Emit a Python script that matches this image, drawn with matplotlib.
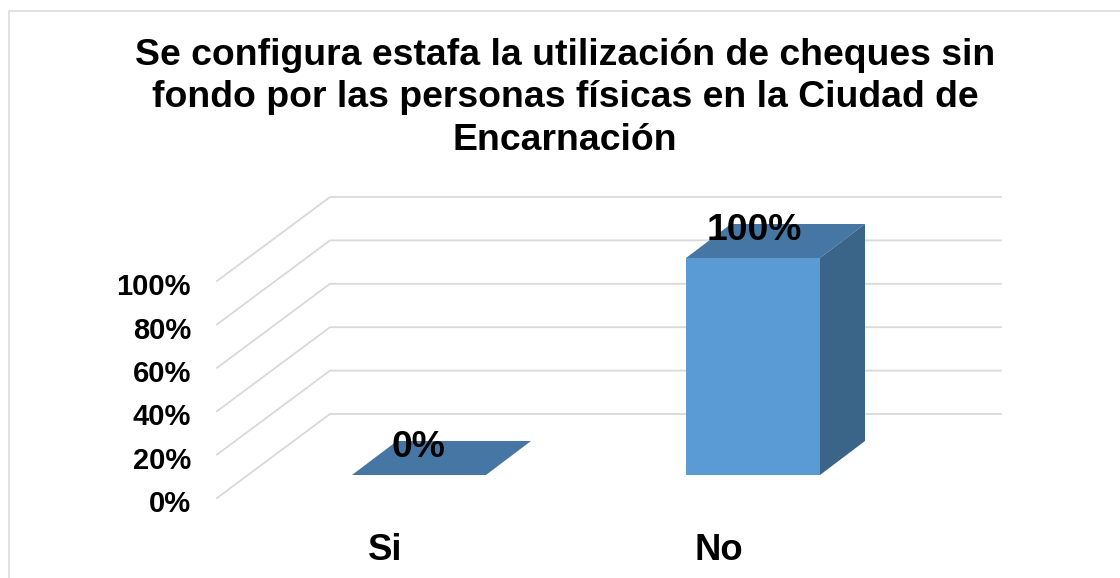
import matplotlib
matplotlib.use("Agg")
import matplotlib.pyplot as plt
from matplotlib.lines import Line2D
from matplotlib.patches import Polygon

plt.rcParams['font.family'] = ['Liberation Sans', 'DejaVu Sans']

title = "Se configura estafa la utilización de cheques sin\nfondo por las personas físicas en la Ciudad de\nEncarnación"
categories = ["Si", "No"]
values = [0, 100]
ticks = [0, 20, 40, 60, 80, 100]

W, H = 1120, 578
# pixels per category step / per percent on the front plane
PX_X = 334.0
PX_Y = 2.17
X0_PX = 419
Y0_PX = 475

bar_w = 134 / PX_X
bar_dx, bar_dy = 45 / PX_X, 34 / PX_Y
wall_dx, wall_dy = 113 / PX_X, 84 / PX_Y
# back wall position relative to the bar front plane
back_x = (330 - X0_PX) / PX_X
back_y = (Y0_PX - 414) / PX_Y
right_x = (1001 - X0_PX) / PX_X

fig = plt.figure(figsize=(W / 100, H / 100), dpi=100, facecolor="white")
ax = fig.add_axes([0, 0, 1, 1])
ax.set_xlim(-X0_PX / PX_X, (W - X0_PX) / PX_X)
ax.set_ylim((Y0_PX - H) / PX_Y, Y0_PX / PX_Y)
ax.axis("off")

# gridlines on the wall and the floor
for t in ticks:
    y = back_y + t
    ax.plot([back_x - wall_dx, back_x, right_x], [y - wall_dy, y, y],
            color="#d9d9d9", lw=1.3, solid_joinstyle="miter", zorder=1)
    ax.text((191 - X0_PX) / PX_X, y - wall_dy - 2.9, "%d%%" % t, ha="right", va="center",
            fontsize=21, fontweight="bold", color="black", zorder=5)

# bars: front, top and side faces
for i, v in enumerate(values):
    l = i - bar_w / 2
    r = i + bar_w / 2
    ax.bar(i, v, width=bar_w, color="#5b9bd5", zorder=2)
    ax.add_patch(Polygon([(l, v), (r, v), (r + bar_dx, v + bar_dy), (l + bar_dx, v + bar_dy)],
                         closed=True, facecolor="#4676a3", edgecolor="none", zorder=3))
    if v > 0:
        ax.add_patch(Polygon([(r, 0), (r + bar_dx, bar_dy), (r + bar_dx, v + bar_dy), (r, v)],
                             closed=True, facecolor="#3a6488", edgecolor="none", zorder=3))
    ax.text(i + 0.003 * (2 * i - 1), v + 12.6, "%d%%" % v, ha="center", va="center", fontsize=26.8,
            fontweight="bold", color="black", zorder=6)
    ax.text(i - 0.102, -34.8, categories[i], ha="center", va="center", fontsize=26.3,
            fontweight="bold", color="black", zorder=6)

fig.text(565 / W, 1 - 98 / H, title, ha="center", va="center", fontsize=26.9, fontweight="bold",
         color="black", linespacing=1.26)

# chart border, cut by the image on the right and at the bottom
fig.add_artist(Line2D([9 / W, 9 / W, 1], [0, 1 - 10.5 / H, 1 - 10.5 / H], color="#d9d9d9", lw=1.1))

fig.savefig("out.png", dpi=100, facecolor="white")
